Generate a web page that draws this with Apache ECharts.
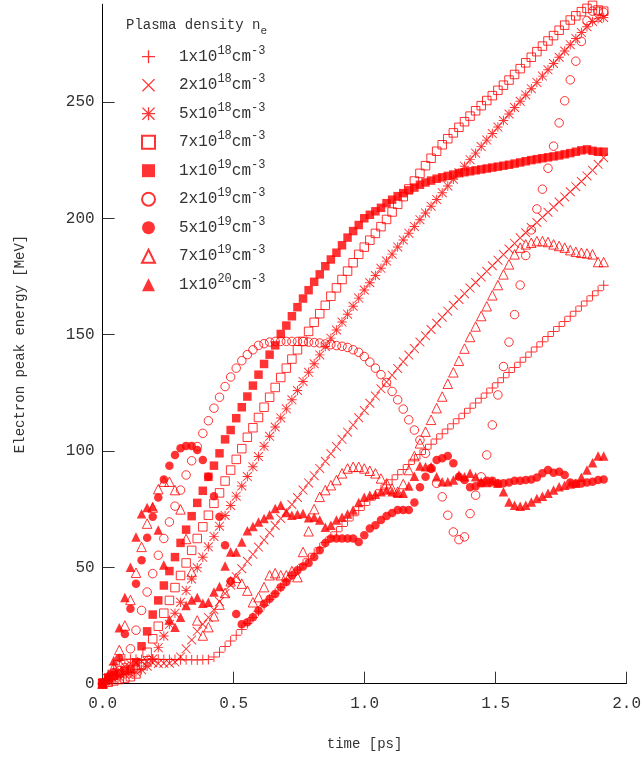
<!DOCTYPE html>
<html>
<head>
<meta charset="utf-8">
<script src="https://cdn.jsdelivr.net/npm/echarts@6/dist/echarts.min.js"></script>
<style>
  html, body { margin: 0; padding: 0; background: #fff; }
  #chart { width: 644px; height: 758px; }
</style>
</head>
<body>
<div id="chart"></div>
<script>
// Spacing (ps) between successive diagnostic dumps of the simulations
const DT = 0.02125;

// Plasma densities n_e = mantissa x 10^exponent cm^-3
const densityMantissa = ['1', '2', '5', '7', '1', '2', '5', '7', '1'];
const densityExponent = ['18', '18', '18', '18', '19', '19', '19', '19', '20'];

// Electron peak energy (MeV) per dump, one array per density
const energy_1e18 = [
  0, 4, 8, 10, 10.5, 10.5, 10.5, 10.4, 10.4, 10.5,
  10.5, 10.4, 10.4, 10.4, 10.3, 10.3, 10.3, 10.2, 10.3, 10.4,
  11.5, 13.5, 16, 18.3, 20.8, 23.3, 25.9, 28.5, 31.1, 33.7,
  36.3, 38.9, 41.5, 44, 46.5, 48.9, 51.3, 53.7, 56.1, 58.4,
  60.7, 63, 65.3, 67.6, 69.9, 72.2, 74.4, 76.6, 78.8, 81,
  83.3, 85.5, 87.6, 89.8, 92.1, 94.2, 96.4, 98.5, 100.7, 102.9,
  105.2, 107.4, 109.5, 111.7, 113.9, 116.2, 118.4, 120.6, 122.7, 124.9,
  127.1, 129.3, 131.5, 133.7, 135.9, 138.1, 140.3, 142.5, 144.7, 146.9,
  149.2, 151.3, 153.5, 155.7, 157.9, 160.1, 162.3, 164.5, 166.7, 168.9,
  171.2
];
const energy_2e18 = [
  0, 2, 4, 6, 7.5, 8.5, 9, 9.5, 9.6, 9,
  8.7, 8.8, 8.8, 9.3, 11.5, 15, 18.8, 22.5, 25.6, 28.5,
  31.8, 35.3, 38.8, 42.4, 46, 49.4, 52.6, 55.6, 58.7, 61.8,
  64.9, 68, 71, 74, 77, 80, 83.2, 86.3, 89.4, 92.5,
  95.6, 98.8, 101.9, 105, 108.1, 111.2, 114.3, 117.4, 120.5, 123.6,
  126.7, 129.7, 132.6, 135.5, 138.4, 141.2, 144, 146.8, 149.5, 152.2,
  154.9, 157.5, 160.1, 162.6, 165.1, 167.6, 170, 172.4, 174.8, 177.2,
  179.6, 182, 184.4, 186.8, 189.2, 191.6, 193.8, 196, 198.2, 200.4,
  202.6, 204.8, 207, 209.2, 211.4, 213.6, 215.8, 218.2, 220.6, 223.2,
  226
];
const energy_5e18 = [
  0, 1, 2, 3, 4, 4.5, 5, 6, 7.5, 10.6,
  15.5, 20.5, 25.5, 30.3, 35, 40, 45, 49.8, 54.3, 58.8,
  63.3, 67.7, 72.3, 76.6, 80.6, 85, 89, 93.2, 97.6, 102,
  106.3, 110.3, 114.2, 118.1, 122, 126, 129.9, 133.8, 137.5, 141.3,
  144.9, 148.5, 152, 155.4, 158.8, 162.2, 165.7, 169.2, 172.3, 175.4,
  178.5, 181.6, 184.6, 187.7, 190.7, 193.6, 196.5, 199.4, 202.3, 205.2,
  208.1, 211, 213.9, 216.8, 219.6, 222.4, 225.2, 228, 230.8, 233.6,
  236.4, 239.2, 242, 244.8, 247.6, 250.3, 253, 255.7, 258.4, 261.1,
  263.8, 266.5, 269.2, 271.9, 274.6, 277.3, 279.8, 282.3, 284.6, 285.8,
  286.3
];
const energy_7e18 = [
  0, 0.6, 1.2, 1.8, 2.4, 3, 4.2, 8.2, 13.5, 19.3,
  24.7, 30.3, 35.8, 41.3, 46.5, 51.9, 57.3, 62.4, 67.4, 72.4,
  77.5, 82, 87.1, 91.8, 96.4, 101, 105.9, 110, 114.4, 118.8,
  123.1, 127.3, 131.6, 135.6, 139.5, 143.5, 147.1, 151.4, 155.3, 159,
  162.6, 166.5, 170.1, 173.7, 177.3, 180.9, 184.5, 187.6, 190.6, 193.5,
  196.4, 199.5, 202.7, 206, 209.3, 212.6, 216, 219.3, 222.6, 225.8,
  228.8, 231.6, 234.2, 236.7, 239.1, 241.5, 243.9, 246.2, 248.4, 250.6,
  252.7, 255, 257.2, 259.4, 261.8, 264.3, 266.8, 269.2, 271.6, 274,
  276.2, 278.5, 280.8, 283, 285.2, 287, 288.8, 290.2, 291.5, 289.5,
  289
];
const energy_1e19 = [
  0.6, 2.7, 3.4, 4.4, 5.6, 6.3, 9.2, 16.1, 22.5, 29.7,
  35.8, 42.2, 48.4, 54.4, 60.5, 66.2, 72, 77.7, 82.9, 88.9,
  93.7, 99, 105, 109, 114.1, 118.8, 123.4, 128.1, 132.8, 137.4,
  141.4, 145.4, 150.3, 153.9, 157.9, 161.8, 165.5, 169.1, 172.7, 175.9,
  179.4, 182.3, 185.2, 188.4, 191.7, 194.5, 197.1, 200, 201.5, 203,
  204.5, 206.5, 208, 209.5, 210.8, 212, 213.2, 214.4, 215.4, 216.2,
  217, 217.6, 218.2, 218.8, 219.4, 219.8, 220.2, 220.6, 221, 221.4,
  221.8, 222.2, 222.6, 223, 223.5, 224, 224.5, 225, 225.4, 225.8,
  226.2, 226.6, 227, 227.5, 228, 228.6, 229.2, 229.6, 229, 228.6,
  228.6
];
const energy_2e19 = [
  0, 1.5, 3.5, 5.6, 7, 15, 23, 31.5, 39.4, 47.3,
  55.2, 62.4, 69.5, 76.3, 83.2, 89.7, 95.8, 101.9, 107.6, 113,
  118.4, 123.1, 127.7, 131.8, 135.6, 138.8, 141.4, 143.5, 145.4, 146.1,
  146.8, 147.1, 147.1, 147.1, 147.1, 147.1, 147, 146.8, 146.6, 146.4,
  146, 145.7, 145.3, 145, 144.5, 143.5, 142.4, 140.6, 138.2, 135.6,
  132.8, 129.4, 125.6, 122, 118, 113.4, 109, 104.7, 99, 92.5,
  86.1, 80.3, 72.4, 65.2, 61.9, 63.1, 73.1, 81, 88.9, 98.3,
  111.2, 124.1, 136.3, 146.8, 158.6, 171.3, 184, 195, 204, 212.5,
  221.5, 231, 241, 250.5, 259.5, 267.5, 276, 285, 289, 289,
  288.5
];
const energy_5e19 = [
  0, 2, 5, 11, 21.4, 32.2, 43, 53, 62.7, 71.7,
  80, 87.8, 93.7, 98.3, 101.2, 102.2, 102.2, 100.4, 96.1, 88.9,
  80.6, 71.7, 59.5, 44, 30, 25.6, 26.4, 28.6, 31.5, 34.4,
  36.5, 38.6, 41.5, 43.7, 46.6, 48.7, 50.4, 51.9, 54.4, 57.3,
  60.5, 62.4, 62.4, 62.4, 62.4, 62.4, 60.9, 63.8, 66.7, 68.1,
  70.3, 72.1, 73.4, 74.6, 74.6, 74.6, 77.9, 84.4, 88.9, 92.5,
  96.1, 96.9, 97.8, 94.7, 88.9, 87.5, 84.4, 84.9, 86.1, 87.2,
  87.2, 86.1, 86.1, 86.5, 87.2, 87.2, 87.5, 87.8, 88.6, 90.4,
  91.8, 90.6, 91.1, 89.7, 86.5, 86, 86, 86.5, 86.8, 87.5,
  87.8
];
const energy_7e19 = [
  0, 3, 7, 14.5, 25, 36, 47.7, 58.8, 68.8, 75.7,
  83.6, 86.8, 86.8, 83.2, 74.9, 62.2, 48, 27.2, 20.7, 24.3,
  29, 34, 39, 44, 45.5, 43, 40, 35, 37.2, 41.5,
  46.6, 47.5, 46.6, 46.6, 48.4, 45.8, 56.6, 65.5, 75, 80.3,
  83.2, 85.3, 87.5, 90.4, 92.5, 93.2, 93.2, 92.5, 91.5, 90.4,
  88.2, 86.1, 83.9, 82.5, 85.8, 91.8, 97.8, 103.3, 108.3, 113.4,
  118.4, 123.4, 128.9, 133.8, 138.8, 144, 149, 153.5, 158, 162.2,
  166.9, 171.3, 175.9, 180.2, 184.5, 187.4, 188.8, 189.5, 190.2, 190.2,
  189.8, 188.8, 188.1, 187.4, 186.3, 185.6, 185.2, 184.9, 184.5, 181.2,
  181.2
];
const energy_1e20 = [
  0, 4, 10, 24, 37, 50, 63, 73, 75.7, 76.2,
  66, 51, 27.6, 24.3, 28.6, 33.6, 36, 37, 34.6, 35,
  39.4, 41.8, 50.6, 56.6, 56.6, 60.9, 65.7, 67.6, 69.5, 71,
  72.6, 75.3, 76.7, 73.6, 72.4, 72.8, 73.1, 71.3, 71.5, 70.4,
  67.2, 68.1, 70.3, 71.5, 72.9, 74.6, 77.9, 80.1, 81, 81.4,
  82.5, 83.2, 82.5, 81.8, 81.8, 85, 89.2, 93.5, 93.2, 93.2,
  88.9, 86.8, 86.8, 87.5, 89.7, 88.9, 90.4, 88.9, 86.8, 86.5,
  86.8, 86.1, 82.5, 78.1, 76.7, 76.3, 76.7, 78.1, 79.6, 80.6,
  81.8, 83.2, 84.6, 85.3, 85.8, 86.1, 88.7, 91.8, 95, 97.8,
  97.8
];

// Tick positions on the energy axis
const energyTicks = [0, 50, 100, 150, 200, 250];

const RED = '#ff0000';
const TEXT = '#333333';
const MONO = '"Liberation Mono", "DejaVu Sans Mono", monospace';

// Stroke-like markers built from thin filled bars
const PLUS = 'path://M0,4.5L10,4.5L10,5.5L0,5.5Z M4.5,0L5.5,0L5.5,10L4.5,10Z';
const CROSS = 'path://M0,0.7L0.7,0L10,9.3L9.3,10Z M9.3,0L10,0.7L0.7,10L0,9.3Z';
const STAR = 'path://M0,4.5L10,4.5L10,5.5L0,5.5Z M4.5,0L5.5,0L5.5,10L4.5,10Z ' +
             'M0,0.7L0.7,0L10,9.3L9.3,10Z M9.3,0L10,0.7L0.7,10L0,9.3Z';

const hollow = { color: 'rgba(0,0,0,0)', borderColor: RED, borderWidth: 1 };
const solid = { color: RED, borderWidth: 0 };

const markers = [
  { symbol: PLUS, size: 10, style: solid },
  { symbol: CROSS, size: 9.5, style: solid },
  { symbol: STAR, size: 9.5, style: solid },
  { symbol: 'rect', size: 8.5, style: hollow },
  { symbol: 'rect', size: 8.5, style: solid },
  { symbol: 'circle', size: 8.5, style: hollow },
  { symbol: 'circle', size: 8.5, style: solid },
  { symbol: 'triangle', size: 9.5, style: hollow },
  { symbol: 'triangle', size: 9.5, style: solid }
];

const energies = [energy_1e18, energy_2e18, energy_5e18, energy_7e18,
                  energy_1e19, energy_2e19, energy_5e19, energy_7e19, energy_1e20];

const seriesNames = densityMantissa.map((m, k) => m + 'x10^' + densityExponent[k] + 'cm^-3');

const series = energies.map((values, k) => ({
  name: seriesNames[k],
  type: 'scatter',
  symbol: markers[k].symbol,
  symbolSize: markers[k].size,
  itemStyle: markers[k].style,
  data: values.map((e, i) => [i * DT, e]),
  silent: true,
  animation: false
}));

const chart = echarts.init(document.getElementById('chart'), null, { renderer: 'canvas' });

chart.setOption({
  backgroundColor: '#ffffff',
  animation: false,
  grid: { left: 102.6, right: 12.8, top: 4.2, bottom: 74.3, containLabel: false },
  title: {
    text: '{t|Plasma density n}{sub|e}',
    left: 126,
    top: 13,
    padding: 0,
    textStyle: {
      fontWeight: 'normal',
      rich: {
        t: { fontFamily: MONO, fontSize: 14, fontWeight: 'normal', lineHeight: 24, color: TEXT, verticalAlign: 'middle' },
        sub: { fontFamily: MONO, fontSize: 11, fontWeight: 'normal', lineHeight: 6, color: TEXT, verticalAlign: 'bottom' }
      }
    }
  },
  legend: {
    orient: 'vertical',
    left: 141,
    top: 44.7,
    padding: 0,
    itemWidth: 13,
    itemHeight: 13,
    itemGap: 8.5,
    selectedMode: false,
    data: seriesNames,
    formatter: function (name) {
      const k = seriesNames.indexOf(name);
      return '{sp| }{b|' + densityMantissa[k] + 'x10}{sup|' + densityExponent[k] +
             '}{b|cm}{sup|-3}';
    },
    textStyle: {
      rich: {
        sp: { width: 19, fontSize: 10, lineHeight: 24 },
        b: { fontFamily: MONO, fontSize: 16, lineHeight: 24, color: TEXT, verticalAlign: 'middle' },
        sup: { fontFamily: MONO, fontSize: 12, lineHeight: 4, color: TEXT, verticalAlign: 'top' }
      }
    }
  },
  xAxis: {
    type: 'value',
    min: 0,
    max: 2,
    interval: 0.5,
    name: 'time [ps]',
    nameLocation: 'middle',
    nameGap: 54,
    nameTextStyle: { fontFamily: MONO, fontSize: 14, color: TEXT },
    axisLine: { show: true, onZero: false, lineStyle: { color: '#000', width: 1 } },
    axisTick: { show: true, inside: true, length: 12, lineStyle: { color: '#333', width: 1 } },
    axisLabel: {
      margin: 12,
      fontFamily: MONO,
      fontSize: 16,
      color: TEXT,
      formatter: v => v.toFixed(1)
    },
    splitLine: { show: false }
  },
  yAxis: {
    type: 'value',
    min: 0,
    max: 292,
    name: 'Electron peak energy [MeV]',
    nameLocation: 'middle',
    nameRotate: 90,
    nameGap: 75,
    nameTextStyle: { fontFamily: MONO, fontSize: 14, color: TEXT },
    axisLine: { show: true, onZero: false, lineStyle: { color: '#000', width: 1 } },
    axisTick: {
      show: true, inside: true, length: 12,
      customValues: energyTicks,
      lineStyle: { color: '#333', width: 1 }
    },
    axisLabel: {
      margin: 8,
      fontFamily: MONO,
      fontSize: 16,
      color: TEXT,
      customValues: energyTicks
    },
    splitLine: { show: false }
  },
  series: series
});
</script>
</body>
</html>
